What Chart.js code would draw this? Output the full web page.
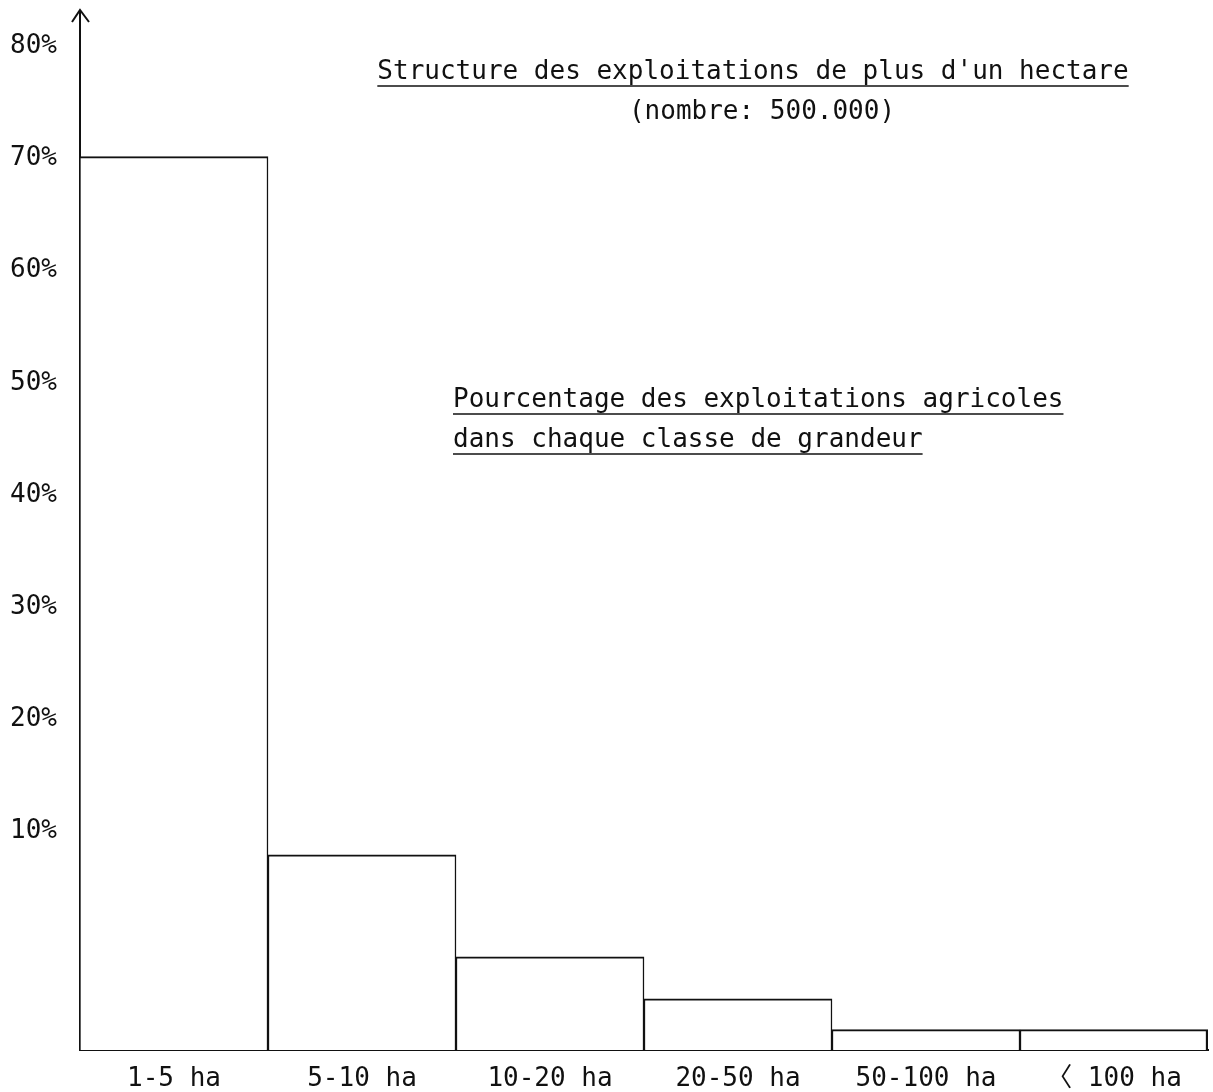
<!DOCTYPE html>
<html>
<head>
<meta charset="utf-8">
<script src="https://cdn.jsdelivr.net/npm/chart.js@4/dist/chart.umd.min.js"></script>
<style>
  html, body { margin: 0; background: #fff; }
  canvas { display: block; }
</style>
</head>
<body>
<canvas id="chart" width="1213" height="1092"></canvas>
<script>
// classes de grandeur et parts (%)
const categories = ['1-5 ha', '5-10 ha', '10-20 ha', '20-50 ha', '50-100 ha', '\u3008 100 ha'];
const shares = [70, 15.3, 7.3, 4.0, 1.6, 1.6];

// graduations écrites à la main sur l'axe (décalées par rapport aux barres)
const tickValues = [10, 20, 30, 40, 50, 60, 70, 80];
const tickLabels = ['10%', '20%', '30%', '40%', '50%', '60%', '70%', '80%'];

const mono = '"DejaVu Sans Mono", "Liberation Mono", "Noto Sans CJK JP", monospace';

// titres soulignés + flèche de l'axe
const annotations = {
  id: 'annotations',
  afterDraw(chart) {
    const ctx = chart.ctx;
    const area = chart.chartArea;
    ctx.save();
    ctx.strokeStyle = '#111';
    ctx.fillStyle = '#111';

    // flèche en haut de l'axe vertical
    ctx.lineWidth = 2;
    ctx.beginPath();
    ctx.moveTo(area.left, area.top + 1);
    ctx.lineTo(area.left, 10);
    ctx.moveTo(area.left - 8, 22);
    ctx.lineTo(area.left, 10);
    ctx.lineTo(area.left + 9, 22);
    ctx.stroke();

    const lines = [
      { text: "Structure des exploitations de plus d'un hectare", x: 753, y: 72, align: 'center', underline: true },
      { text: '(nombre: 500.000)', x: 762, y: 112, align: 'center', underline: false },
      { text: 'Pourcentage des exploitations agricoles', x: 453, y: 400, align: 'left', underline: true },
      { text: 'dans chaque classe de grandeur', x: 453, y: 440, align: 'left', underline: true }
    ];
    ctx.font = '26px ' + mono;
    ctx.textBaseline = 'middle';
    ctx.lineWidth = 1.5;
    lines.forEach(l => {
      ctx.textAlign = l.align;
      ctx.fillText(l.text, l.x, l.y);
      if (l.underline) {
        const w = ctx.measureText(l.text).width;
        const x0 = l.align === 'center' ? l.x - w / 2 : l.x;
        ctx.beginPath();
        ctx.moveTo(x0, l.y + 14);
        ctx.lineTo(x0 + w, l.y + 14);
        ctx.stroke();
      }
    });
    ctx.restore();
  }
};

new Chart(document.getElementById('chart'), {
  type: 'bar',
  data: {
    labels: categories,
    datasets: [{
      data: shares,
      yAxisID: 'y',
      backgroundColor: '#fff',
      borderColor: '#111',
      borderSkipped: false,
      borderWidth: ctx => ({
        top: 2,
        bottom: 0,
        left: ctx.dataIndex === 0 ? 1 : 1.5,
        right: ctx.dataIndex === shares.length - 1 ? 2.5 : 1.5
      }),
      barPercentage: 1,
      categoryPercentage: 1
    }]
  },
  options: {
    responsive: false,
    animation: false,
    layout: { padding: { top: 29, right: 5, left: 0, bottom: 0 } },
    plugins: {
      legend: { display: false },
      tooltip: { enabled: false }
    },
    scales: {
      x: {
        grid: { display: false, drawTicks: false },
        border: { display: true, color: '#111', width: 2 },
        ticks: {
          color: '#111',
          padding: 14,
          maxRotation: 0,
          font: { family: mono, size: 26 }
        },
        afterFit: s => { s.height = 42; s.paddingLeft = 0; s.paddingRight = 0; }
      },
      y: {
        display: false,
        min: 0,
        max: 80
      },
      yl: {
        type: 'linear',
        position: 'left',
        min: -9.51,
        max: 81.56,
        grid: { display: false, drawTicks: false },
        border: { display: true, color: '#111', width: 2 },
        afterBuildTicks: s => { s.ticks = tickValues.map(v => ({ value: v })); },
        ticks: {
          color: '#111',
          padding: 23,
          font: { family: mono, size: 26 },
          callback: v => tickLabels[tickValues.indexOf(v)] || ''
        },
        afterFit: s => { s.width = 80; s.paddingTop = 0; s.paddingBottom = 0; }
      }
    }
  },
  plugins: [annotations]
});
</script>
</body>
</html>
